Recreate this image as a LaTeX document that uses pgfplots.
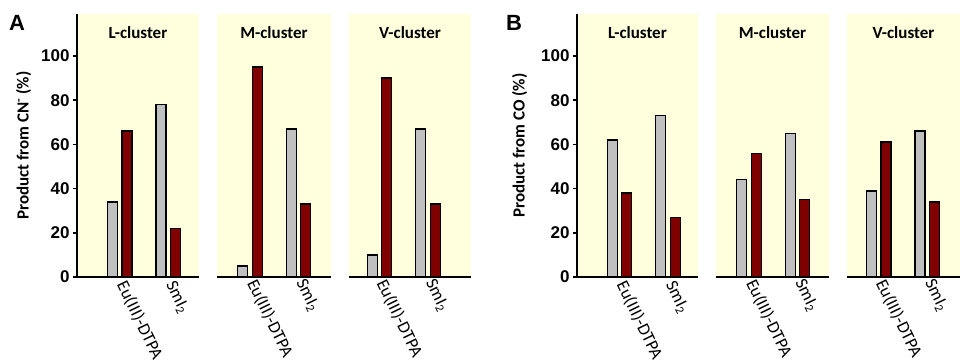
\documentclass[border=0pt]{standalone}
\usepackage{pgfplots}
\pgfplotsset{compat=1.18}
\usepackage{fontspec}
\setmainfont{Carlito}
\newfontfamily\arial{Liberation Sans}
\definecolor{bgyel}{RGB}{255,255,221}
\definecolor{bargrey}{RGB}{192,192,192}
\definecolor{barred}{RGB}{128,0,0}
\newcommand{\fs}{\fontsize{17}{20}\selectfont}
\newcommand{\fsl}{\fontsize{17.5}{20}\selectfont}

\pgfplotsset{
  panel/.style={
    x=48.5pt, y=2.21pt,
    ymin=0, ymax=119,
    anchor=south west,
    axis background/.style={fill=bgyel},
    axis x line=bottom,
    axis line style={-, line width=2pt},
    xtick={1,2},
    xticklabels={Eu(III)-DTPA, SmI\textsubscript{2}},
    xticklabel style={rotate=-64, anchor=west, font=\fsl},
    xticklabel shift=-1.5pt,
    xtick style={draw=none},
  },
  leftpanel/.style={
    axis y line=left,
    y axis line style={-},
    every outer y axis line/.append style={-},
    ytick={0,20,40,60,80,100},
    tick align=outside,
    major tick length=4pt,
    ytick style={line width=1.5pt, black},
    yticklabel style={font=\arial\bfseries\fs},
    /pgf/number format/assume math mode=true,
    ylabel style={font=\bfseries\fs, anchor=center},
  },
  otherpanel/.style={
    axis y line=none,
    ytick=\empty,
  },
  greybar/.style={ybar, bar width=10pt, bar shift=-7.25pt, fill=bargrey, draw=black, line width=1.4pt},
  redbar/.style={ybar, bar width=10pt, bar shift=7.25pt, fill=barred, draw=black, line width=1.4pt},
}
\newcommand{\ptitle}[1]{\node[font=\bfseries\fs, anchor=base] at (rel axis cs:0.5,0.908) {#1};}

\begin{document}
\begin{tikzpicture}
% ---------------- Panel A ----------------
\begin{axis}[panel, leftpanel, at={(77pt,84pt)}, xmin=0.1186, xmax=2.634,
  ylabel={Product from CN\textsuperscript{-} (\%)},
  ylabel style={at={(axis description cs:-0.4385,0.5)}}]
  \addplot[greybar] coordinates {(1,34) (2,78)};
  \addplot[redbar] coordinates {(1,66) (2,22)};
  \ptitle{L-cluster}
\end{axis}
\begin{axis}[panel, otherpanel, at={(217pt,84pt)}, xmin=0.3196, xmax=2.670]
  \addplot[greybar] coordinates {(1,5) (2,67)};
  \addplot[redbar] coordinates {(1,95) (2,33)};
  \ptitle{M-cluster}
\end{axis}
\begin{axis}[panel, otherpanel, at={(349pt,84pt)}, xmin=0.371, xmax=2.887]
  \addplot[greybar] coordinates {(1,10) (2,67)};
  \addplot[redbar] coordinates {(1,90) (2,33)};
  \ptitle{V-cluster}
\end{axis}
% ---------------- Panel B ----------------
\begin{axis}[panel, leftpanel, at={(577pt,84pt)}, xmin=0.1237, xmax=2.6186,
  ylabel={Product from CO (\%)},
  ylabel style={at={(axis description cs:-0.4752,0.5)}}]
  \addplot[greybar] coordinates {(1,62) (2,73)};
  \addplot[redbar] coordinates {(1,38) (2,27)};
  \ptitle{L-cluster}
\end{axis}
\begin{axis}[panel, otherpanel, at={(716pt,84pt)}, xmin=0.3196, xmax=2.6495]
  \addplot[greybar] coordinates {(1,44) (2,65)};
  \addplot[redbar] coordinates {(1,56) (2,35)};
  \ptitle{M-cluster}
\end{axis}
\begin{axis}[panel, otherpanel, at={(847pt,84pt)}, xmin=0.3443, xmax=2.674]
  \addplot[greybar] coordinates {(1,39) (2,66)};
  \addplot[redbar] coordinates {(1,61) (2,34)};
  \ptitle{V-cluster}
\end{axis}
\node[font=\arial\bfseries\fontsize{22}{24}\selectfont, anchor=base west, inner sep=0] at (9pt,330pt) {A};
\node[font=\arial\bfseries\fontsize{22}{24}\selectfont, anchor=base west, inner sep=0] at (506pt,330pt) {B};
\pgfresetboundingbox
\useasboundingbox (0,0) rectangle (960pt,361pt);
\end{tikzpicture}
\end{document}
